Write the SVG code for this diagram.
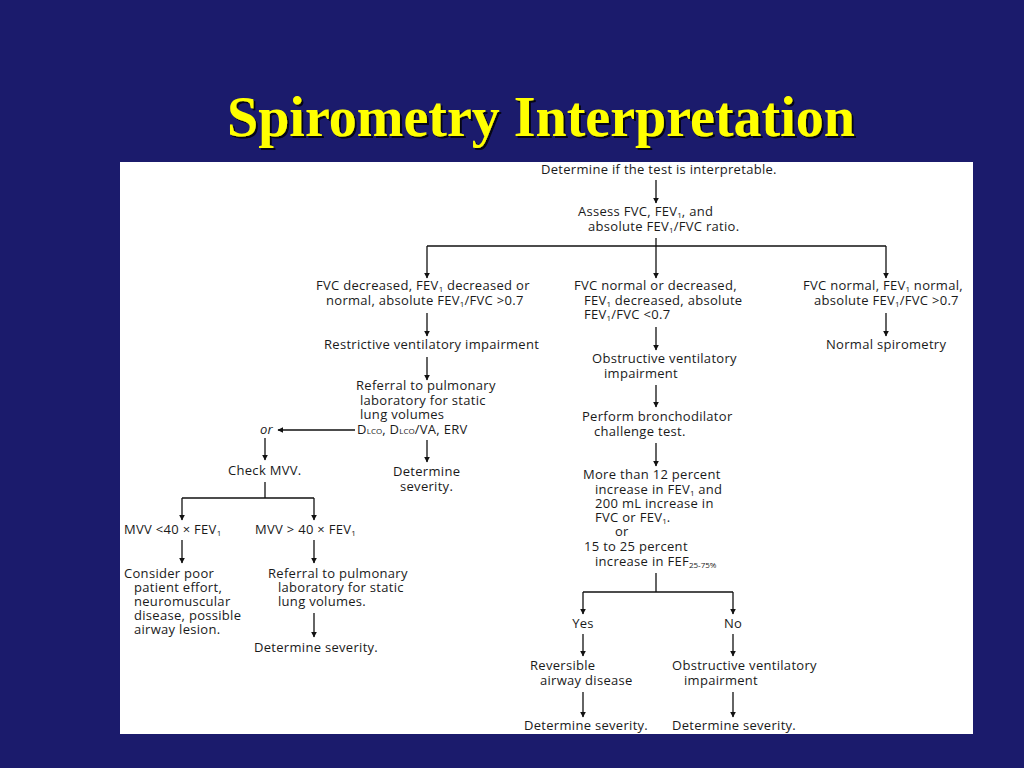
<svg xmlns="http://www.w3.org/2000/svg" width="1024" height="768" viewBox="0 0 1024 768">
<defs>
<marker id="ah" viewBox="0 0 10 10" refX="9" refY="5" markerWidth="6" markerHeight="6" markerUnits="userSpaceOnUse" orient="auto">
<path d="M0,0 L10,5 L0,10 z" fill="#111"/>
</marker>
<filter id="sh" x="-5%" y="-20%" width="110%" height="140%">
<feDropShadow dx="2" dy="2" stdDeviation="0.5" flood-color="#000" flood-opacity="0.8"/>
</filter>
</defs>
<style>
.t{font-family:"Open Sans","Noto Sans","DejaVu Sans",sans-serif;font-size:13px;letter-spacing:0.3px;fill:#1a1a1a}
.s{font-size:8px;letter-spacing:0}
.c line,.c path{stroke:#111;stroke-width:1.3;fill:none}
.a{marker-end:url(#ah)}
.title{font-family:"Liberation Serif","Times New Roman",serif;font-weight:bold;font-size:56px;fill:#ffff00}
</style>
<rect width="1024" height="768" fill="#1b1b6c"/>
<text class="title" x="541" y="136" text-anchor="middle" filter="url(#sh)">Spirometry Interpretation</text>
<rect x="120" y="162" width="853" height="572" fill="#ffffff"/>

<g class="c" id="connectors">
<line class="a" x1="656" y1="180" x2="656" y2="203"/>
<line x1="656" y1="238" x2="656" y2="246"/>
<line x1="427" y1="246" x2="886" y2="246"/>
<line class="a" x1="427" y1="246" x2="427" y2="278"/>
<line class="a" x1="656" y1="246" x2="656" y2="278"/>
<line class="a" x1="886" y1="246" x2="886" y2="278"/>
<line class="a" x1="427" y1="313" x2="427" y2="336"/>
<line class="a" x1="427" y1="357" x2="427" y2="380"/>
<line class="a" x1="355" y1="430" x2="278" y2="430"/>
<line class="a" x1="427" y1="440" x2="427" y2="462"/>
<line class="a" x1="265" y1="438" x2="265" y2="460"/>
<line x1="265" y1="482" x2="265" y2="498"/>
<line x1="182" y1="498" x2="314" y2="498"/>
<line class="a" x1="182" y1="498" x2="182" y2="520"/>
<line class="a" x1="314" y1="498" x2="314" y2="520"/>
<line class="a" x1="182" y1="540" x2="182" y2="563"/>
<line class="a" x1="314" y1="540" x2="314" y2="563"/>
<line class="a" x1="314" y1="613" x2="314" y2="637"/>
<line class="a" x1="656" y1="327" x2="656" y2="350"/>
<line class="a" x1="656" y1="385" x2="656" y2="407"/>
<line class="a" x1="656" y1="443" x2="656" y2="466"/>
<line x1="656" y1="573" x2="656" y2="592"/>
<line x1="583" y1="592" x2="733" y2="592"/>
<line class="a" x1="583" y1="592" x2="583" y2="614"/>
<line class="a" x1="733" y1="592" x2="733" y2="614"/>
<line class="a" x1="583" y1="634" x2="583" y2="656"/>
<line class="a" x1="733" y1="634" x2="733" y2="656"/>
<line class="a" x1="583" y1="692" x2="583" y2="717"/>
<line class="a" x1="733" y1="692" x2="733" y2="717"/>
<line class="a" x1="886" y1="313" x2="886" y2="336"/>
</g>

<g id="n-determine"><text class="t" x="541" y="174">Determine if the test is interpretable.</text></g>
<g id="n-assess"><text class="t" x="578" y="216">Assess FVC, FEV<tspan class="s" dy="2">1</tspan><tspan dy="-2">, and</tspan></text>
<text class="t" x="588" y="231">absolute FEV<tspan class="s" dy="2">1</tspan><tspan dy="-2">/FVC ratio.</tspan></text></g>

<g id="n-left-cond"><text class="t" x="316" y="290">FVC decreased, FEV<tspan class="s" dy="2">1</tspan><tspan dy="-2"> decreased or</tspan></text>
<text class="t" x="326" y="305">normal, absolute FEV<tspan class="s" dy="2">1</tspan><tspan dy="-2">/FVC &gt;0.7</tspan></text></g>
<g id="n-restrictive"><text class="t" x="324" y="349">Restrictive ventilatory impairment</text></g>
<g id="n-referral1"><text class="t" x="356" y="390">Referral to pulmonary</text>
<text class="t" x="360" y="405">laboratory for static</text>
<text class="t" x="360" y="419">lung volumes</text>
<text class="t" x="357" y="434">D<tspan class="s">LCO</tspan>, D<tspan class="s">LCO</tspan>/VA, ERV</text></g>
<g id="n-or1"><text class="t" x="260" y="434" font-style="italic">or</text></g>
<g id="n-sev1"><text class="t" x="393" y="476">Determine</text><text class="t" x="400" y="491">severity.</text></g>
<g id="n-checkmvv"><text class="t" x="228" y="475">Check MVV.</text></g>
<g id="n-mvvlt"><text class="t" x="124" y="534">MVV &lt;40 × FEV<tspan class="s" dy="2">1</tspan></text></g>
<g id="n-mvvgt"><text class="t" x="255" y="534">MVV &gt; 40 × FEV<tspan class="s" dy="2">1</tspan></text></g>
<g id="n-consider"><text class="t" x="124" y="578">Consider poor</text>
<text class="t" x="134" y="592">patient effort,</text>
<text class="t" x="134" y="606">neuromuscular</text>
<text class="t" x="134" y="620">disease, possible</text>
<text class="t" x="134" y="634">airway lesion.</text></g>
<g id="n-referral2"><text class="t" x="268" y="578">Referral to pulmonary</text>
<text class="t" x="278" y="592">laboratory for static</text>
<text class="t" x="278" y="606">lung volumes.</text></g>
<g id="n-sev2"><text class="t" x="254" y="652">Determine severity.</text></g>

<g id="n-mid-cond"><text class="t" x="574" y="290">FVC normal or decreased,</text>
<text class="t" x="584" y="305">FEV<tspan class="s" dy="2">1</tspan><tspan dy="-2"> decreased, absolute</tspan></text>
<text class="t" x="584" y="319">FEV<tspan class="s" dy="2">1</tspan><tspan dy="-2">/FVC &lt;0.7</tspan></text></g>
<g id="n-obstructive1"><text class="t" x="592" y="363">Obstructive ventilatory</text><text class="t" x="604" y="378">impairment</text></g>
<g id="n-broncho"><text class="t" x="582" y="421">Perform bronchodilator</text><text class="t" x="594" y="436">challenge test.</text></g>
<g id="n-criteria"><text class="t" x="583" y="479">More than 12 percent</text>
<text class="t" x="595" y="494">increase in FEV<tspan class="s" dy="2">1</tspan><tspan dy="-2"> and</tspan></text>
<text class="t" x="595" y="508">200 mL increase in</text>
<text class="t" x="595" y="522">FVC or FEV<tspan class="s" dy="2">1</tspan><tspan dy="-2">.</tspan></text>
<text class="t" x="615" y="536">or</text>
<text class="t" x="584" y="551">15 to 25 percent</text>
<text class="t" x="595" y="566">increase in FEF<tspan class="s" dy="2">25-75%</tspan></text></g>
<g id="n-yes"><text class="t" x="583" y="628" text-anchor="middle">Yes</text></g>
<g id="n-no"><text class="t" x="733" y="628" text-anchor="middle">No</text></g>
<g id="n-reversible"><text class="t" x="530" y="670">Reversible</text><text class="t" x="540" y="685">airway disease</text></g>
<g id="n-obstructive2"><text class="t" x="672" y="670">Obstructive ventilatory</text><text class="t" x="684" y="685">impairment</text></g>
<g id="n-sev3"><text class="t" x="524" y="730">Determine severity.</text></g>
<g id="n-sev4"><text class="t" x="672" y="730">Determine severity.</text></g>

<g id="n-right-cond"><text class="t" x="803" y="290">FVC normal, FEV<tspan class="s" dy="2">1</tspan><tspan dy="-2"> normal,</tspan></text>
<text class="t" x="814" y="305">absolute FEV<tspan class="s" dy="2">1</tspan><tspan dy="-2">/FVC &gt;0.7</tspan></text></g>
<g id="n-normal"><text class="t" x="826" y="349">Normal spirometry</text></g>
</svg>
